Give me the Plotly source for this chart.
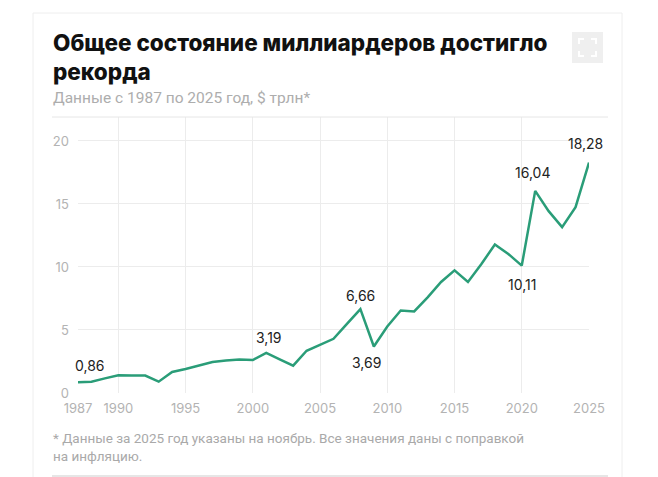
import plotly.graph_objects as go

years = list(range(1987, 2026))
wealth = [0.86, 0.90, 1.16, 1.40, 1.38, 1.38, 0.90, 1.67, 1.90, 2.20,
          2.46, 2.57, 2.65, 2.62, 3.19, 2.67, 2.17, 3.35, 3.82, 4.30,
          5.49, 6.66, 3.69, 5.28, 6.55, 6.47, 7.59, 8.81, 9.73, 8.81,
          10.24, 11.78, 11.03, 10.11, 16.04, 14.43, 13.16, 14.75, 18.28]

label_years = [1987, 2001, 2008, 2009, 2020, 2021, 2025]
label_text = ["0,86", "3,19", "6,66", "3,69", "10,11", "16,04", "18,28"]
label_shift = [(12, 17), (3, 15), (0, 14), (-7, -16), (0, -19), (-3, 18), (-4, 19)]

tick_years = [1987, 1990, 1995, 2000, 2005, 2010, 2015, 2020, 2025]

W, H = 658, 477
OFF = 8  # page body margin
# plot area in page pixels: left 78, right 589, top 117, bottom 393
L, T = 78 - OFF, 117 - OFF
R, B = W - (589 - OFF), H - (393 - OFF)

fig = go.Figure()
fig.add_scatter(x=years, y=wealth, mode="lines",
                line=dict(color="#2a9d78", width=2.5), hoverinfo="x+y")

def px_x(p):
    return (p - OFF - L) / (W - L - R)

def px_y(p):
    return 1 - (p - OFF - T) / (H - T - B)

for yr, txt, (dx, dy) in zip(label_years, label_text, label_shift):
    fig.add_annotation(x=yr, y=wealth[years.index(yr)], text=txt, showarrow=False,
                       xshift=dx, yshift=dy,
                       font=dict(family="Inter", size=14, color="#222222"))

# title, subtitle, footnote
fig.add_annotation(xref="paper", yref="paper", x=px_x(51), y=px_y(27),
                   xanchor="left", yanchor="top", align="left", showarrow=False,
                   text="Общее состояние миллиардеров достигло<br>рекорда",
                   font=dict(family="Inter", size=22.5, weight=800, color="#111111"))
fig.add_annotation(xref="paper", yref="paper", x=px_x(51), y=px_y(98),
                   xanchor="left", yanchor="middle", showarrow=False,
                   text="Данные с 1987 по 2025 год, $ трлн*",
                   font=dict(family="Roboto", size=15.5, color="#adadad"))
fig.add_annotation(xref="paper", yref="paper", x=px_x(51), y=px_y(428),
                   xanchor="left", yanchor="top", align="left", showarrow=False,
                   text="* Данные за 2025 год указаны на ноябрь. Все значения даны с поправкой<br>на инфляцию.",
                   font=dict(family="Roboto", size=13.5, color="#a9a9a9"))

shapes = [
    # card
    dict(type="rect", xref="paper", yref="paper", x0=px_x(33), x1=px_x(622),
         y0=px_y(495), y1=px_y(13), line=dict(color="#eeeeee", width=1),
         fillcolor="rgba(0,0,0,0)", layer="below"),
    # separators
    dict(type="line", xref="paper", yref="paper", x0=px_x(52), x1=px_x(608),
         y0=px_y(117), y1=px_y(117), line=dict(color="#e6e6e6", width=1)),
    dict(type="line", xref="paper", yref="paper", x0=px_x(52), x1=px_x(608),
         y0=px_y(476), y1=px_y(476), line=dict(color="#e6e6e6", width=2)),
    # expand icon
    dict(type="rect", xref="paper", yref="paper", x0=px_x(572), x1=px_x(603),
         y0=px_y(63), y1=px_y(32), line=dict(width=0), fillcolor="#efefef"),
]
for cx, cy, sx, sy in [(579, 39, 1, 1), (596, 39, -1, 1), (579, 56, 1, -1), (596, 56, -1, -1)]:
    path = "M {} {} L {} {} L {} {}".format(
        px_x(cx + 5 * sx), px_y(cy), px_x(cx), px_y(cy), px_x(cx), px_y(cy + 5 * sy))
    shapes.append(dict(type="path", xref="paper", yref="paper", path=path,
                       line=dict(color="white", width=2)))

fig.update_layout(
    width=W, height=H,
    margin=dict(l=L, r=R, t=T, b=B),
    paper_bgcolor="white", plot_bgcolor="white",
    showlegend=False,
    shapes=shapes,
    xaxis=dict(range=[1987, 2025], tickvals=tick_years, showgrid=True,
               gridcolor="#ececec", gridwidth=1, zeroline=False, showline=False,
               ticks="", ticklabelstandoff=6,
               tickfont=dict(family="Inter", size=13, color="#b3b3b3")),
    yaxis=dict(range=[0, 21.9], tickvals=[0, 5, 10, 15, 20], showgrid=True,
               gridcolor="#ececec", gridwidth=1, zeroline=False, showline=False,
               ticks="", ticklabelstandoff=8,
               tickfont=dict(family="Inter", size=13, color="#b3b3b3")),
)

fig.write_html("out.html")
